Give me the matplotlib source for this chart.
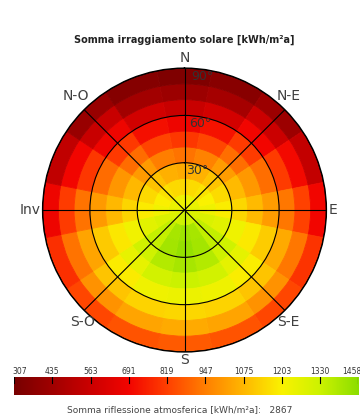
import numpy as np
import matplotlib
matplotlib.use('Agg')
import matplotlib.pyplot as plt
from matplotlib.colors import LinearSegmentedColormap, Normalize

# azimuth sectors, clockwise from north (degrees)
azimuths = [0, 22.5, 45, 67.5, 90, 112.5, 135, 157.5, 180,
            202.5, 225, 247.5, 270, 292.5, 315, 337.5]
# tilt rings (centre of each 10 degree band)
tilts = [5, 15, 25, 35, 45, 55, 65, 75, 85]

# irradiation [kWh/m2a], one row per tilt ring, columns follow azimuths
irr = [
    [1230, 1235, 1240, 1250, 1260, 1280, 1300, 1320, 1330, 1320, 1300, 1280, 1255, 1245, 1240, 1232],
    [1140, 1150, 1170, 1200, 1230, 1290, 1350, 1400, 1420, 1400, 1350, 1290, 1225, 1195, 1165, 1145],
    [1040, 1060, 1100, 1150, 1190, 1270, 1350, 1410, 1440, 1410, 1345, 1265, 1185, 1145, 1095, 1055],
    [920, 950, 1010, 1080, 1140, 1230, 1320, 1380, 1400, 1380, 1315, 1225, 1135, 1075, 1005, 945],
    [800, 830, 910, 1000, 1080, 1180, 1260, 1310, 1330, 1310, 1255, 1175, 1075, 995, 905, 825],
    [680, 720, 810, 910, 1010, 1120, 1190, 1230, 1240, 1230, 1185, 1115, 1005, 905, 805, 715],
    [550, 590, 690, 810, 930, 1040, 1100, 1130, 1140, 1130, 1100, 1030, 920, 800, 680, 580],
    [420, 450, 560, 700, 820, 930, 990, 1030, 1040, 1030, 990, 920, 810, 690, 550, 440],
    [330, 360, 420, 540, 690, 790, 830, 860, 870, 860, 830, 780, 680, 530, 410, 350],
]

cbar_ticks = [307, 435, 563, 691, 819, 947, 1075, 1203, 1330, 1458]
compass = ['N', 'N-E', 'E', 'S-E', 'S', 'S-O', 'Inv', 'N-O']
ring_labels = ['30°', '60°', '90°']
reflection = 2867

colors = [(0.47, 0.0, 0.0), (0.63, 0.0, 0.0), (0.80, 0.0, 0.0), (0.95, 0.02, 0.0),
          (1.0, 0.25, 0.0), (1.0, 0.50, 0.0), (1.0, 0.72, 0.0), (0.98, 0.95, 0.0),
          (0.80, 0.95, 0.0), (0.55, 0.87, 0.0)]
cmap = LinearSegmentedColormap.from_list('irr', colors)
norm = Normalize(vmin=cbar_ticks[0], vmax=cbar_ticks[-1])

fig = plt.figure(figsize=(3.6, 4.18), dpi=100)
ax = fig.add_axes([0.118, 0.158, 0.789, 0.679], projection='polar')
ax.set_theta_zero_location('N')
ax.set_theta_direction(-1)

width = np.deg2rad(22.5)
for i, t in enumerate(tilts):
    for j, a in enumerate(azimuths):
        c = cmap(norm(irr[i][j]))
        ax.bar(np.deg2rad(a), 10, width=width, bottom=t - 5,
               color=c, edgecolor=c, linewidth=0.6)

ax.set_ylim(0, 90)
ax.set_rticks([30, 60, 90])
ax.set_yticklabels([])
ax.set_thetagrids(np.arange(0, 360, 45), labels=[])
ax.grid(True, color='black', linewidth=0.8)
ax.spines['polar'].set_color('black')
ax.spines['polar'].set_linewidth(1.0)
ax.tick_params(length=0)

for r, lab in zip([25, 55, 85], ring_labels):
    ax.text(np.deg2rad(3), r, lab, fontsize=9, color='#333333', ha='left', va='center')

# compass labels around the circle (offsets in pixels from centre)
cx, cy = 184.5, 210
offsets = [(0, -152), (104, -114), (149, 0), (104, 112),
           (0, 150), (-102, 112), (-154, 0), (-109, -114)]
for lab, (dx, dy) in zip(compass, offsets):
    fig.text((cx + dx) / 360, 1 - (cy + dy) / 418, lab, fontsize=10,
             color='#404040', ha='center', va='center')

fig.text(0.511, 1 - 40 / 418, 'Somma irraggiamento solare [kWh/m²a]',
         fontsize=7, fontweight='bold', color='#222222', ha='center', va='center')

# colorbar
cax = fig.add_axes([0.039, 1 - 395 / 418, 0.956, 18 / 418])
grad = np.linspace(cbar_ticks[0], cbar_ticks[-1], 256).reshape(1, -1)
cax.imshow(grad, aspect='auto', cmap=cmap, norm=norm,
           extent=[cbar_ticks[0], cbar_ticks[-1], 0, 1])
cax.set_xlim(cbar_ticks[0], cbar_ticks[-1])
cax.set_yticks([])
cax.set_xticks([])
for s in cax.spines.values():
    s.set_visible(False)
for k, v in enumerate(cbar_ticks):
    cax.plot([v, v], [1, 0.65], color='black', linewidth=0.8)
    off = 0
    if k == 0:
        off = 20
    if k == len(cbar_ticks) - 1:
        off = -22
    cax.text(v + off, 1.08, str(v), fontsize=5.5, color='#333333', ha='center', va='bottom')

fig.text(0.5, 1 - 410 / 418, 'Somma riflessione atmosferica [kWh/m²a]:   ' + str(reflection),
         fontsize=6.5, color='#444444', ha='center', va='center')

fig.savefig('out.png', dpi=100)
